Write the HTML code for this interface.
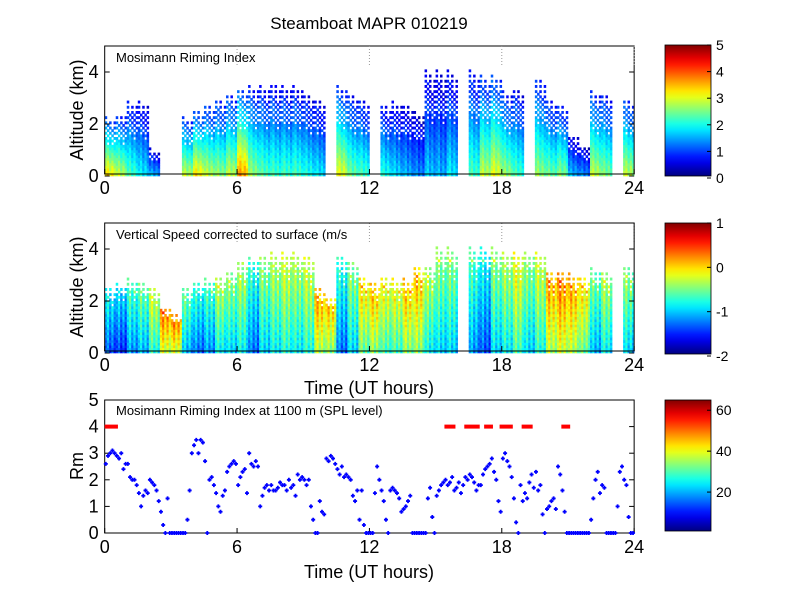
<!DOCTYPE html>
<html><head><meta charset="utf-8">
<style>
body{margin:0;background:#fff;}
svg{display:block;font-family:"Liberation Sans",Arial,sans-serif;}
</style></head>
<body>
<svg id="fig" width="800" height="600" viewBox="0 0 800 600">
<rect x="0" y="0" width="800" height="600" fill="#fff"/>
<text x="369" y="29" font-size="17" text-anchor="middle">Steamboat MAPR 010219</text>
<g id="p1"></g>
<g id="p2"></g>
<g id="p3"></g>
<g id="cb"></g>
</svg>
<script>
// ---- data ----
const hours = [0,0.5,1,1.5,2,2.5,3,3.5,4,4.5,5,5.5,6,6.5,7,7.5,8,8.5,9,9.5,10,10.5,11,11.5,12,12.5,13,13.5,14,14.5,15,15.5,16,16.5,17,17.5,18,18.5,19,19.5,20,20.5,21,21.5,22,22.5,23,23.5];
const top1 = [2.3,2.4,2.9,2.9,1.0,0,0,2.3,2.6,2.8,3.0,3.2,3.4,3.5,3.5,3.6,3.5,3.5,3.2,3.0,0,3.5,3.2,3.0,0,2.8,2.9,2.8,2.5,4.1,4.1,4.1,0,4.1,3.9,4.0,3.3,3.4,0,3.8,3.0,2.8,1.6,1.2,3.3,3.2,0,3.0];
const rim1 = [3.2,2.8,2.2,1.8,1.5,1,1,2.8,3.2,2.8,2.6,2.8,3.6,2.6,2.3,2.2,2.2,2.2,2.0,1.8,0,3,2.4,2.2,1.5,2.0,1.7,1.5,1.3,1.6,1.5,1.8,0,2.2,2.8,3.0,2.6,2.2,1,2.6,2.4,2.5,1.5,1.3,2.8,2.5,0,2.8];
const top2 = [2.6,2.7,2.9,2.8,2.6,1.8,1.5,2.6,2.8,2.9,3.0,3.2,3.6,3.7,3.8,3.9,4.0,3.9,3.8,2.6,2.2,3.8,3.6,3.0,2.8,3.0,2.9,2.9,3.4,3.4,4.1,4.1,0,4.1,4.1,4.1,4.0,4.0,4.0,4.0,3.2,3.2,3.1,3.0,3.3,3.2,0,3.4];
const vel2 = [-1.4,-1.5,-1.2,-1.1,-0.8,-0.3,-0.3,-1.1,-1.3,-1.2,-0.9,-1.0,-0.9,-1.3,-1.0,-0.9,-0.8,-0.9,-0.8,-0.4,-0.5,-1.3,-1.0,-0.6,-0.5,-0.7,-0.7,-0.5,-0.5,-0.9,-1.0,-1.0,0,-1.2,-1.4,-1.0,-0.9,-0.7,-1.0,-0.8,-0.4,-0.3,-0.4,-0.6,-1.1,-0.9,0,-1.0];
const rmTimes = Array.from({length:240},(_,i)=>i*0.1);
const rmValues = [2.6,2.9,3.0,3.1,3.0, 2.9,2.8,3.0,2.4,2.6, 2.6,2.1,2.0,2.0,1.8, 1.5,1.0,1.4,1.6,1.5,
2.0,1.9,1.8,1.6,1.2, 0.8,0.3,0,1.3,0, 0,0,0,0,0, 0,0,0.5,1.6,3.0, 3.3,3.5,3.0,3.5,3.4, 2.7,0,2.0,2.1,1.8,
1.5,1.0,0.8,1.4,1.6, 2.3,2.5,2.6,2.7,2.6, 1.8,2.1,2.3,2.4,1.5, 3.0,2.6,2.5,2.7,2.5, 1.0,1.4,1.7,1.8,1.6,
1.8,1.6,1.6,1.7,1.9, 1.8,1.8,1.6,2.0,1.7, 1.8,1.4,2.2,2.0,2.1, 2.0,1.8,2.0,1.0,0.5, 0,0,1.2,0.8,0.7,
2.8,2.7,2.9,2.8,2.6, 2.4,2.2,2.5,2.1,2.2, 2.1,2.0,1.4,1.2,1.6, 0.5,1.6,0.3,0,0, 0,0,1.5,2.5,2.0,
1.6,1.2,0.5,0,1.6, 1.7,1.6,1.5,1.3,0.8, 0.9,1.0,1.2,1.4,0, 0,0,0,0,0, 0,1.3,1.7,0.6,0,
1.4,1.6,1.8,1.9,2.0, 1.8,1.9,2.1,1.6,1.7, 1.9,1.5,1.8,2.1,2.0, 2.2,2.1,1.9,1.6,1.8, 1.8,2.2,2.4,2.5,2.6,
2.8,2.3,2.0,1.2,0.8, 2.8,3.0,2.7,2.5,2.1, 1.3,0.4,0,1.8,1.2, 1.5,1.3,1.9,2.2,1.7, 2.3,1.6,1.8,0.7,0,
0.9,1.0,1.2,1.3,0.9, 2.5,2.2,1.6,0.8,0, 0,0,0,0,0, 0,0,0,0,0, 0.5,1.3,2.0,2.3,1.5,
1.8,1.7,0,0,0, 0,0,1.0,2.3,2.5, 2.0,1.8,0.6,0,0];
const dashStart = [0,15.4,16.3,17.2,17.9,18.9,20.7];
const dashEnd   = [0.6,15.9,17.0,17.6,18.5,19.4,21.1];
const xTicks = [0,6,12,18,24];
const xTickLabels = ["0","6","12","18","24"];

// ---- helpers ----
const NS="http://www.w3.org/2000/svg";
function mk(parent,tag,attrs){const e=document.createElementNS(NS,tag);for(const k in attrs)e.setAttribute(k,attrs[k]);parent.appendChild(e);return e;}
function jet(t){t=Math.max(0,Math.min(1,t));
 const r=Math.max(0,Math.min(1,1.5-Math.abs(4*t-3))),g=Math.max(0,Math.min(1,1.5-Math.abs(4*t-2))),b=Math.max(0,Math.min(1,1.5-Math.abs(4*t-1)));
 return `rgb(${Math.round(r*255)},${Math.round(g*255)},${Math.round(b*255)})`;}
const X0=104.7, PXH=22.06;
const xs=h=>X0+h*PXH;
const tex=[0,0.35,-0.25,0.2,-0.35];
const topFac=[1,0.86,0.95,0.8,0.92];

function axesFrame(g,top,bot,y0,ppu,yt){
 mk(g,'rect',{x:X0,y:top,width:xs(24)-X0,height:bot-top,fill:'none',stroke:'#000','stroke-width':1});
 xTicks.forEach((t,i)=>{
  const x=xs(t);
  mk(g,'line',{x1:x,y1:bot,x2:x,y2:bot-5,stroke:'#000'});
  const tl=mk(g,'text',{x:x,y:bot+20,'font-size':18,'text-anchor':'middle'});tl.textContent=xTickLabels[i];
  
  
 });
 yt.forEach(v=>{
  const y=y0-v*ppu;
  mk(g,'line',{x1:X0,y1:y,x2:X0+5,y2:y,stroke:'#000'});
  mk(g,'line',{x1:xs(24),y1:y,x2:xs(24)-5,y2:y,stroke:'#000'});
  const tl=mk(g,'text',{x:X0-6,y:y+6,'font-size':18,'text-anchor':'end'});tl.textContent=String(v);
  
  
 });
}

function radar(g,tops,vals,y0,ppu,fn,sparse){
 hours.forEach((h,i)=>{
  const tp0=tops[i]; if(tp0<=0) return;
  for(let s=0;s<5;s++){
   const hh=h+s*0.1;
   const tp=tp0*topFac[s];
   let k=0;
   for(let z=0;z<tp;z+=0.1,k++){
    const f=z/tp;
    if(f>sparse && (s+k)%2===1) continue;
    const v=fn(vals[i],f,tex[(s+k)%5]*0.5+tex[s]);
    mk(g,'rect',{x:xs(hh).toFixed(2),y:(y0-(z+0.1)*ppu).toFixed(2),width:(0.1*PXH+0.3).toFixed(2),height:(0.1*ppu+0.3).toFixed(2),fill:v});
   }
  }
 });
}

// Panel 1
const p1=document.getElementById('p1');
const c1=mk(p1,'g',{});


radar(c1,top1,rim1,176,26,(vb,f,t)=>jet((vb*(1-0.7*f)+t*0.6)/5),0.6);
axesFrame(p1,46,174,176,26,[0,2,4]);
let t=mk(p1,'text',{x:116,y:62,'font-size':13});t.textContent='Mosimann Riming Index';


t=mk(p1,'text',{x:0,y:0,'font-size':18,'text-anchor':'middle',transform:'translate(83,110) rotate(-90)'});t.textContent='Altitude (km)';



// Panel 2
const p2=document.getElementById('p2');
const c2=mk(p2,'g',{});


radar(c2,top2,vel2,353,26,(vb,f,t)=>jet((vb+0.6*f+t*0.5+2)/3),0.85);
axesFrame(p2,223,351,353,26,[0,2,4]);
t=mk(p2,'text',{x:116,y:239,'font-size':13});t.textContent='Vertical Speed corrected to surface (m/s';


t=mk(p2,'text',{x:0,y:0,'font-size':18,'text-anchor':'middle',transform:'translate(83,287) rotate(-90)'});t.textContent='Altitude (km)';


t=mk(p2,'text',{x:369,y:394,'font-size':18,'text-anchor':'middle'});t.textContent='Time (UT hours)';



// dotted hour markers
[[46,66],[223,243]].forEach(([a,b])=>{[6,12,18,24].forEach(h=>{
 const l=mk(p1,'line',{x1:xs(h),y1:a,x2:xs(h),y2:b,stroke:'#999','stroke-dasharray':'1,2'});
 
 
});});

// Panel 3
const p3=document.getElementById('p3');
const Y3=533,P3=26.6;
axesFrame(p3,400,533,Y3,P3,[0,1,2,3,4,5]);
dashStart.forEach((d,i)=>{
 const l=mk(p3,'line',{x1:xs(dashStart[i]),y1:Y3-4*P3,x2:xs(dashEnd[i]),y2:Y3-4*P3,stroke:'#f00','stroke-width':4});
 
 
});
const pts=mk(p3,'g',{});


rmValues.forEach((v,i)=>{
 const x=xs(rmTimes[i]+0.05),y=Y3-v*P3;
 const a=mk(pts,'path',{d:`M${x-2},${y}h4M${x},${y-2}v4`,stroke:'#00f','stroke-width':1.8});
 
 
});
t=mk(p3,'text',{x:116,y:415,'font-size':13});t.textContent='Mosimann Riming Index at 1100 m (SPL level)';


t=mk(p3,'text',{x:0,y:0,'font-size':18,'text-anchor':'middle',transform:'translate(83,466) rotate(-90)'});t.textContent='Rm';


t=mk(p3,'text',{x:369,y:578,'font-size':18,'text-anchor':'middle'});t.textContent='Time (UT hours)';



// Colorbars
const cb=document.getElementById('cb');
const defs=mk(cb,'defs',{});
const lg=mk(defs,'linearGradient',{id:'jetg',x1:0,y1:1,x2:0,y2:0});
for(let i=0;i<=20;i++)mk(lg,'stop',{offset:i/20,'stop-color':jet(i/20)});
const cbs=[{top:45,bot:178,ticks:[0,1,2,3,4,5],min:0,max:5},{top:223,bot:356,ticks:[-2,-1,0,1],min:-2,max:1},{top:400,bot:533,ticks:[20,40,60],min:0,max:65}];
cbs.forEach((c,k)=>{
 const r=mk(cb,'rect',{x:665,y:c.top,width:46,height:c.bot-c.top-2,fill:'url(#jetg)',stroke:'#000','stroke-width':0.8});
 
 
 c.ticks.forEach(v=>{
  const y=c.bot-(v-c.min)/(c.max-c.min)*(c.bot-c.top);
  mk(cb,'line',{x1:707,y1:y,x2:711,y2:y,stroke:'#000'});
  const tl=mk(cb,'text',{x:716,y:y+5,'font-size':14});tl.textContent=String(v);
  
  
 });
});
</script>
</body></html>
